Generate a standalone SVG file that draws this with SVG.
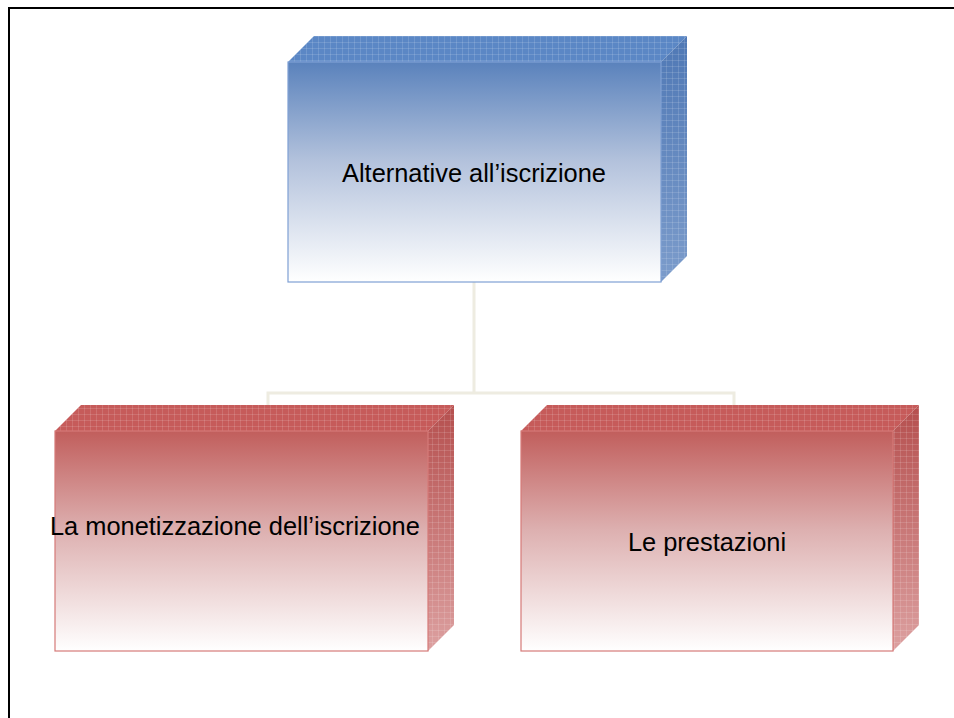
<svg xmlns="http://www.w3.org/2000/svg" width="954" height="718" viewBox="0 0 954 718">
<style>
.lbl{font-family:"Liberation Sans",Arial,sans-serif;font-size:25.4px;fill:#000}
.conn{fill:none;stroke:#EEECE1;stroke-width:3}
.bfront{fill:url(#gBlue);stroke:#7FA0D4;stroke-width:1.2}
.rfront{fill:url(#gRed);stroke:#D57A78;stroke-width:1.2}
.btop{fill:#5B87C5}
.rtop{fill:#C65B5A}
.bside{fill:url(#gBlueSide)}
.rside{fill:url(#gRedSide)}
.grid{fill:url(#pGrid)}
</style>
<defs>
<linearGradient id="gBlue" x1="0" y1="0" x2="0" y2="1">
<stop offset="0" stop-color="#5A82BC"/>
<stop offset="0.45" stop-color="#B3C2DC"/>
<stop offset="1" stop-color="#FFFFFF"/>
</linearGradient>
<linearGradient id="gRed" x1="0" y1="0" x2="0" y2="1">
<stop offset="0" stop-color="#C15E5C"/>
<stop offset="0.45" stop-color="#DDB0B0"/>
<stop offset="1" stop-color="#FFFFFF"/>
</linearGradient>
<linearGradient id="gBlueSide" x1="0" y1="0" x2="0" y2="1">
<stop offset="0" stop-color="#4F78B5"/>
<stop offset="1" stop-color="#7C9CCB"/>
</linearGradient>
<linearGradient id="gRedSide" x1="0" y1="0" x2="0" y2="1">
<stop offset="0" stop-color="#B54F4E"/>
<stop offset="1" stop-color="#DCA0A0"/>
</linearGradient>
<pattern id="pGrid" width="6" height="6" patternUnits="userSpaceOnUse">
<path d="M0 0.5H6M0.5 0V6" stroke="#FFFFFF" stroke-opacity="0.13" stroke-width="1" fill="none"/>
</pattern>
</defs>
<rect x="9" y="8" width="960" height="730" fill="none" stroke="#000" stroke-width="2"/>
<g id="connectors">
<path class="conn" d="M474 282V393M268 405V393H734V405"/>
</g>
<g id="node-alternative">
<polygon class="btop" points="288,62 314,36 687,36 661,62"/>
<polygon class="grid" points="288,62 314,36 687,36 661,62"/>
<polygon class="bside" points="661,62 687,36 687,256 661,282"/>
<polygon class="grid" points="661,62 687,36 687,256 661,282"/>
<rect class="bfront" x="288" y="62" width="373" height="220"/>
<text class="lbl" x="474" y="182" text-anchor="middle">Alternative all’iscrizione</text>
</g>
<g id="node-monetizzazione">
<polygon class="rtop" points="55,431 81,405 454,405 428,431"/>
<polygon class="grid" points="55,431 81,405 454,405 428,431"/>
<polygon class="rside" points="428,431 454,405 454,625 428,651"/>
<polygon class="grid" points="428,431 454,405 454,625 428,651"/>
<rect class="rfront" x="55" y="431" width="373" height="220"/>
<text class="lbl" x="50" y="535">La monetizzazione dell’iscrizione</text>
</g>
<g id="node-prestazioni">
<polygon class="rtop" points="521,431 547,405 919,405 893,431"/>
<polygon class="grid" points="521,431 547,405 919,405 893,431"/>
<polygon class="rside" points="893,431 919,405 919,625 893,651"/>
<polygon class="grid" points="893,431 919,405 919,625 893,651"/>
<rect class="rfront" x="521" y="431" width="372" height="220"/>
<text class="lbl" x="707" y="551" text-anchor="middle">Le prestazioni</text>
</g>
</svg>
